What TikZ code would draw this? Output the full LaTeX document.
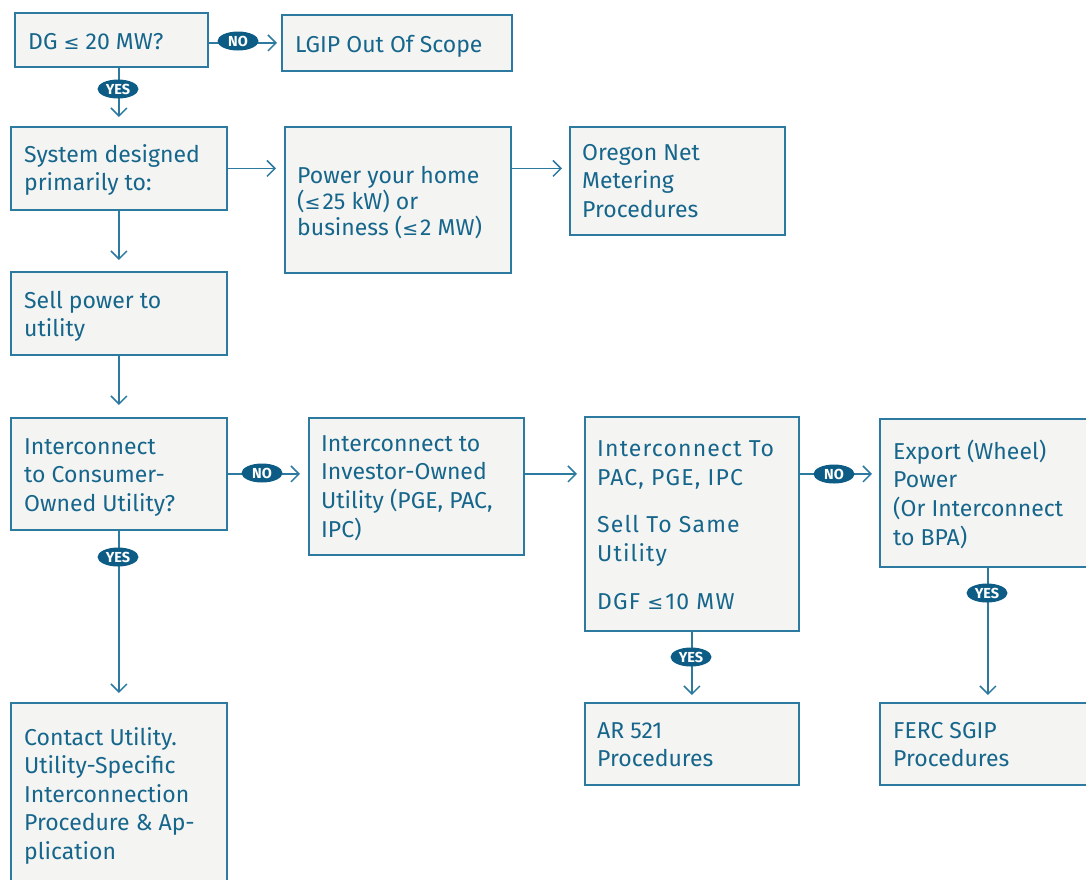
\documentclass[tikz,border=0pt]{standalone}
\usepackage{fontspec}
\setmainfont{Fira Sans}
\newfontfamily\symfont{DejaVu Sans}
\usetikzlibrary{arrows.meta,shapes.geometric}
\definecolor{ink}{RGB}{22,102,140}
\definecolor{edge}{RGB}{44,122,160}
\definecolor{badgeblue}{RGB}{12,92,133}
\definecolor{boxfill}{RGB}{244,244,242}
\newcommand\lsym{{\symfont\fontsize{19pt}{20pt}\selectfont ≤}}
\tikzset{
  box/.style={draw=edge, fill=boxfill, line width=1.8pt, rectangle, inner sep=0pt},
  % text nodes are placed by the baseline of their last line
  txt/.style={anchor=base west, align=left, inner sep=0pt, text=ink,
    font=\fontsize{23pt}{28.6pt}\selectfont},
  arr/.style={draw=edge, line width=1.5pt, -{Straight Barb[length=8pt,width=16pt,line width=1.5pt]}},
  badge/.style={ellipse, fill=badgeblue, inner sep=0pt, minimum width=41pt, minimum height=19pt,
    text=white, font=\fontsize{14.5pt}{14.5pt}\selectfont\bfseries}
}
\begin{document}
\begin{tikzpicture}[x=1pt,y=-1pt]
\clip (0,0) rectangle (1086,879);
\fill[white] (0,0) rectangle (1086,879);

% boxes
\node[box, minimum width=193pt, minimum height=54pt, anchor=north west] (dg) at (14,12) {};
\node[box, minimum width=230pt, minimum height=56pt, anchor=north west] (lgip) at (281,14) {};
\node[box, minimum width=216pt, minimum height=83pt, anchor=north west] (sys) at (10,126) {};
\node[box, minimum width=226pt, minimum height=146pt, anchor=north west] (home) at (284,126) {};
\node[box, minimum width=215pt, minimum height=108pt, anchor=north west] (onm) at (569,126) {};
\node[box, minimum width=216pt, minimum height=83pt, anchor=north west] (sell) at (10,271) {};
\node[box, minimum width=216pt, minimum height=112pt, anchor=north west] (cou) at (10,417) {};
\node[box, minimum width=215pt, minimum height=137pt, anchor=north west] (iou) at (308,417) {};
\node[box, minimum width=214pt, minimum height=214pt, anchor=north west] (pac) at (584,416) {};
\node[box, minimum width=216pt, minimum height=148pt, anchor=north west] (exp) at (879,418) {};
\node[box, minimum width=216pt, minimum height=190pt, anchor=north west] (contact) at (10,702) {};
\node[box, minimum width=214pt, minimum height=82pt, anchor=north west] (ar) at (584,702) {};
\node[box, minimum width=216pt, minimum height=82pt, anchor=north west] (ferc) at (879,702) {};

% box texts
\node[txt] (dg-t) at (28,49) {DG \lsym\ 20 MW?};
\node[txt] (lgip-t) at (295,52) {LGIP Out Of Scope};
\node[txt] (sys-t) at (24,190.6) {System designed\\primarily to:};
\node[txt, font=\fontsize{23pt}{26.2pt}\selectfont] (home-t) at (297,235.4) {Power your home\\(\lsym\kern2pt25 kW) or\\business (\lsym\kern2pt2 MW)};
\node[txt] (onm-t) at (582,217.2) {Oregon Net\\Metering\\Procedures};
\node[txt] (sell-t) at (24,336.6) {Sell power to\\utility};
\node[txt] (cou-t) at (24,511.2) {Interconnect\\to Consumer-\\Owned Utility?};
\node[txt] (iou-t) at (321,537) {Interconnect to\\Investor-Owned\\Utility (PGE, PAC,\\IPC)};
\node[txt, font=\fontsize{23pt}{28.6pt}\selectfont\addfontfeature{LetterSpace=5}] (pac-t) at (597,609)
  {Interconnect To\\PAC, PGE, IPC\\[19pt]Sell To Same\\Utility\\[19pt]DGF \lsym\kern2pt10 MW};
\node[txt] (exp-t) at (893,545) {Export (Wheel)\\Power\\(Or Interconnect\\to BPA)};
\node[txt] (contact-t) at (24,859.4) {Contact Utility.\\Utility-Specific\\Interconnection\\Procedure \& Ap-\\plication};
\node[txt] (ar-t) at (597,766.6) {AR 521\\Procedures};
\node[txt] (ferc-t) at (893,766.6) {FERC SGIP\\Procedures};

% connectors
\draw[arr, shorten >=4pt] (dg.east |- lgip.west) -- (lgip.west);
\draw[arr, shorten >=9pt] (dg.south -| sys.north) -- (sys.north);
\draw[arr, shorten >=8pt] (sys.east) -- (sys.east -| home.west);
\draw[arr, shorten >=7pt] (home.east |- sys.east) -- (onm.west |- sys.east);
\draw[arr, shorten >=11pt] (sys.south) -- (sell.north);
\draw[arr, shorten >=12pt] (sell.south) -- (cou.north);
\draw[arr, shorten >=8pt] (cou.east) -- (cou.east -| iou.west);
\draw[arr, shorten >=7pt] (iou.east |- cou.east) -- (pac.west |- cou.east);
\draw[arr, shorten >=7pt] (pac.east |- cou.east) -- (exp.west |- cou.east);
\draw[arr, shorten >=9pt] (cou.south) -- (contact.north);
\draw[arr, shorten >=7pt] (pac.south) -- (ar.north);
\draw[arr, shorten >=7pt] (exp.south) -- (ferc.north);

% decision badges
\node[badge] (b1) at (238,41) {NO};
\node[badge] (b2) at (118,89) {YES};
\node[badge] (b3) at (262,473) {NO};
\node[badge] (b4) at (118,557) {YES};
\node[badge] (b5) at (834,474) {NO};
\node[badge] (b6) at (691,657) {YES};
\node[badge] (b7) at (987,593) {YES};
\end{tikzpicture}
\end{document}
